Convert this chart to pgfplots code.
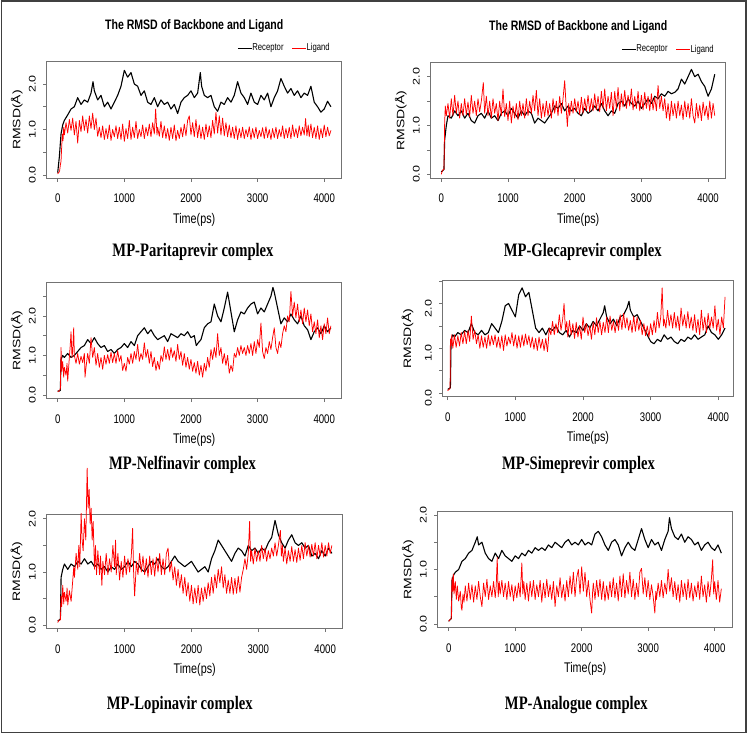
\documentclass[border=0pt]{standalone}
\usepackage{pgfplots}
\pgfplotsset{compat=1.18}
\usepackage{fontspec}
\setmainfont{Liberation Sans}
\newfontfamily\capfont{Liberation Serif}
\definecolor{rred}{RGB}{255,0,0}
\tikzset{
 rec/.style={black, line width=1.1pt, line join=round},
 lig/.style={rred, line width=0.75pt, line join=round},
}
\pgfplotsset{
 rmsd/.style={
  scale only axis, anchor=south west, clip mode=individual,
  axis line style={black!55, line width=0.6pt},
  tick style={black!55, line width=0.6pt},
  tick align=outside, tick pos=left, major tick length=3.5pt,
  xtick={0,1000,2000,3000,4000}, xticklabels={0,1000,2000,3000,4000},
  ytick={0,0.5,1,1.5,2,2.5}, yticklabels={0.0,,1.0,,2.0,},
  xticklabel style={font=\fontsize{12.5}{12.5}\selectfont, xscale=0.77, anchor=base, inner sep=0pt, yshift=-21pt},
  yticklabel style={font=\fontsize{12.5}{12.5}\selectfont, xshift=-7.5pt, xscale=0.77, rotate=90, anchor=base, inner sep=0pt},
  xlabel={Time(ps)}, ylabel={RMSD(Å)},
  every axis x label/.style={at={(axis description cs:0.5,0)}, anchor=base, yshift=-45pt, font=\fontsize{14}{14}\selectfont, xscale=0.77},
  every axis y label/.style={at={(axis description cs:-0.1017,0.5)}, anchor=center, font=\fontsize{14}{14}\selectfont, xscale=0.77, rotate=90},
  title style={at={(axis description cs:0.5,1)}, anchor=base, yshift=26pt, font=\bfseries\fontsize{13.7}{14}\selectfont, xscale=0.77},
  legend style={draw=none, fill=none, inner sep=0pt, at={(axis description cs:0.96,1.117)}, anchor=east,
    font=\fontsize{10}{10}\selectfont, nodes={xscale=0.77, inner sep=0pt},
    /tikz/every even column/.append style={column sep=8pt}},
  legend columns=2,
  legend image code/.code={\draw[#1, line width=1pt] (0pt,0pt) -- (14pt,0pt);},
 },
}
\begin{document}
\begin{tikzpicture}
\path[use as bounding box] (0pt,0pt) rectangle (750pt,734pt);
\draw[black!75, line width=1.3pt] (1.3pt,1.3pt) rectangle (746pt,733pt);

% Panel 1
\begin{axis}[rmsd, at={(46.7pt,555.7pt)}, width=295pt, height=116.6pt,
  xmin=-165, xmax=4262, ymin=-0.073, ymax=2.49,
  title={The RMSD of Backbone and Ligand}]
\addplot[rec] coordinates {(0,0.05)(25,0.4)(50,0.9)(75,1.1)(100,1.2)(150,1.32)(200,1.45)(250,1.5)(300,1.7)(350,1.55)(400,1.65)(450,1.6)(500,1.8)(530,2.05)(550,1.85)(600,1.65)(650,1.75)(700,1.5)(750,1.6)(800,1.45)(850,1.6)(900,1.75)(950,1.95)(1000,2.3)(1050,2.15)(1100,2.25)(1150,2.0)(1200,1.95)(1250,1.75)(1300,1.85)(1350,1.6)(1400,1.55)(1450,1.7)(1500,1.5)(1550,1.65)(1600,1.55)(1650,1.6)(1700,1.45)(1750,1.55)(1800,1.35)(1850,1.6)(1900,1.7)(1950,1.75)(2000,1.85)(2050,1.7)(2100,1.8)(2140,2.25)(2160,1.95)(2200,1.75)(2250,1.7)(2300,1.75)(2350,1.5)(2400,1.4)(2450,1.6)(2500,1.55)(2550,1.7)(2600,1.6)(2650,1.75)(2700,2.05)(2750,1.8)(2800,1.7)(2850,1.55)(2900,1.8)(2950,1.6)(3000,1.55)(3050,1.75)(3100,1.65)(3150,1.8)(3200,1.5)(3250,1.7)(3300,1.85)(3350,2.12)(3400,1.95)(3450,1.8)(3500,1.9)(3550,1.75)(3600,1.85)(3650,1.7)(3700,1.8)(3750,1.75)(3800,1.95)(3850,1.6)(3900,1.5)(3950,1.38)(4000,1.45)(4050,1.62)(4100,1.5)};
\addplot[lig] coordinates {(0,0.02)(10,0.05)(20,0.06)(30,0.1)(40,0.22)(50,0.3)(60,0.62)(70,0.9)(80,0.75)(90,1.05)(100,0.88)(125,1.15)(150,0.92)(175,1.22)(200,0.98)(225,1.25)(250,0.88)(275,1.18)(300,0.7)(325,1.2)(350,0.95)(375,1.3)(400,0.98)(425,1.22)(450,0.92)(475,1.3)(500,1.02)(525,1.36)(550,1.0)(575,1.25)(600,0.85)(625,1.05)(650,0.82)(675,1.08)(700,0.78)(725,1.02)(750,0.8)(775,1.1)(800,0.76)(825,1.0)(850,0.84)(875,1.08)(900,0.8)(925,1.05)(950,0.78)(975,1.12)(1000,0.74)(1025,1.02)(1050,0.8)(1075,1.2)(1100,0.78)(1125,1.05)(1150,0.82)(1175,1.18)(1200,0.8)(1225,1.0)(1250,0.84)(1275,1.1)(1300,0.8)(1325,1.05)(1350,0.86)(1375,1.12)(1400,0.84)(1425,1.15)(1450,0.9)(1470,1.45)(1490,0.88)(1500,1.05)(1525,0.85)(1550,1.18)(1575,0.82)(1600,1.08)(1625,0.8)(1650,1.02)(1675,0.76)(1700,1.05)(1725,0.8)(1750,1.1)(1775,0.75)(1800,0.98)(1825,0.8)(1850,1.05)(1875,0.84)(1900,1.12)(1925,0.86)(1950,1.2)(1975,1.3)(2000,0.88)(2025,1.15)(2050,0.84)(2075,1.22)(2100,0.82)(2125,1.1)(2150,0.8)(2175,1.05)(2200,0.78)(2225,1.12)(2250,0.84)(2275,1.08)(2300,0.82)(2325,1.2)(2350,0.9)(2375,1.38)(2400,0.92)(2425,1.3)(2450,0.88)(2475,1.25)(2500,0.86)(2525,1.15)(2550,0.84)(2575,1.1)(2600,0.82)(2625,1.05)(2650,0.8)(2675,1.08)(2700,0.78)(2725,1.02)(2750,0.82)(2775,1.05)(2800,0.8)(2825,1.0)(2850,0.84)(2875,1.06)(2900,0.78)(2925,1.02)(2950,0.82)(2975,1.05)(3000,0.8)(3025,0.98)(3050,0.84)(3075,1.04)(3100,0.8)(3125,1.06)(3150,0.82)(3175,1.0)(3200,0.78)(3225,1.02)(3250,0.82)(3275,1.05)(3300,0.8)(3325,1.0)(3350,0.84)(3375,1.08)(3400,0.8)(3425,1.02)(3450,0.82)(3475,1.05)(3500,0.8)(3525,1.1)(3550,0.84)(3575,1.02)(3600,0.82)(3625,1.08)(3650,0.86)(3675,1.05)(3700,0.88)(3720,1.24)(3740,0.86)(3760,1.1)(3775,0.84)(3800,1.12)(3825,0.82)(3850,1.05)(3875,0.8)(3900,1.08)(3925,0.78)(3950,1.02)(3975,0.82)(4000,1.1)(4025,0.84)(4050,1.05)(4075,0.86)(4100,0.98)};
\legend{Receptor,Ligand}
\end{axis}

% Panel 2
\begin{axis}[rmsd, at={(430.7pt,555.7pt)}, width=295pt, height=115.6pt,
  xmin=-159, xmax=4264, ymin=-0.082, ymax=2.287,
  title={The RMSD of Backbone and Ligand}]
\addplot[rec] coordinates {(0,0.05)(25,0.08)(40,0.1)(50,0.7)(75,1.0)(100,1.2)(150,1.15)(200,1.3)(250,1.2)(300,1.3)(350,1.15)(400,1.25)(450,1.1)(500,1.05)(550,1.2)(600,1.25)(650,1.15)(700,1.3)(750,1.15)(800,1.2)(850,1.1)(900,1.25)(950,1.3)(1000,1.2)(1050,1.35)(1100,1.25)(1150,1.15)(1200,1.3)(1250,1.2)(1300,1.3)(1350,1.25)(1400,1.05)(1450,1.15)(1500,1.1)(1550,1.05)(1600,1.15)(1650,1.25)(1700,1.4)(1750,1.35)(1800,1.45)(1850,1.3)(1900,1.4)(1950,1.3)(2000,1.35)(2050,1.25)(2100,1.2)(2150,1.35)(2200,1.25)(2250,1.3)(2300,1.4)(2350,1.3)(2400,1.45)(2450,1.3)(2500,1.2)(2550,1.3)(2600,1.25)(2650,1.45)(2700,1.5)(2750,1.4)(2800,1.55)(2850,1.45)(2900,1.4)(2950,1.5)(3000,1.35)(3050,1.45)(3100,1.55)(3150,1.45)(3200,1.6)(3250,1.55)(3300,1.65)(3350,1.6)(3400,1.7)(3450,1.65)(3500,1.68)(3550,1.75)(3600,1.95)(3650,1.85)(3700,2.0)(3750,2.15)(3800,2.0)(3850,2.05)(3900,1.9)(3950,1.8)(4000,1.6)(4050,1.75)(4100,2.05)};
\addplot[lig] coordinates {(0,0.0)(10,0.05)(20,0.08)(30,0.1)(40,0.1)(50,1.05)(60,1.4)(75,1.2)(100,1.45)(125,1.15)(150,1.55)(175,1.2)(200,1.62)(225,1.25)(250,1.5)(275,1.15)(300,1.45)(325,1.2)(350,1.55)(375,1.22)(400,1.48)(425,1.18)(450,1.62)(475,1.25)(500,1.5)(525,1.2)(550,1.55)(575,1.28)(600,1.5)(630,1.88)(650,1.25)(675,1.6)(700,1.2)(725,1.5)(750,1.15)(775,1.55)(800,1.25)(825,1.45)(850,1.1)(875,1.5)(900,1.2)(925,1.75)(950,1.18)(975,1.45)(1000,1.1)(1025,1.5)(1050,1.05)(1075,1.4)(1100,1.15)(1125,1.45)(1150,1.12)(1175,1.5)(1200,1.2)(1225,1.45)(1250,1.15)(1275,1.55)(1300,1.2)(1325,1.5)(1350,1.25)(1375,1.62)(1400,1.3)(1425,1.72)(1450,1.2)(1475,1.55)(1500,1.15)(1525,1.45)(1550,1.18)(1575,1.5)(1600,1.2)(1625,1.45)(1650,1.15)(1675,1.55)(1700,1.25)(1725,1.5)(1750,1.2)(1775,1.6)(1800,1.25)(1825,1.55)(1850,1.92)(1875,1.3)(1890,0.98)(1910,1.45)(1925,1.2)(1950,1.5)(1975,1.25)(2000,1.55)(2025,1.28)(2050,1.5)(2075,1.22)(2100,1.58)(2125,1.25)(2150,1.55)(2175,1.3)(2200,1.62)(2225,1.28)(2250,1.55)(2275,1.3)(2300,1.65)(2325,1.32)(2350,1.6)(2375,1.28)(2400,1.7)(2425,1.35)(2450,1.75)(2475,1.3)(2500,1.6)(2525,1.35)(2550,1.68)(2575,1.2)(2600,1.7)(2625,1.35)(2650,1.78)(2675,1.3)(2700,1.65)(2725,1.38)(2750,1.72)(2775,1.35)(2800,1.62)(2825,1.4)(2850,1.75)(2875,1.32)(2900,1.6)(2925,1.35)(2950,1.7)(2975,1.3)(3000,1.62)(3025,1.32)(3050,1.68)(3075,1.35)(3100,1.6)(3125,1.3)(3150,1.65)(3175,1.32)(3200,1.58)(3225,1.3)(3250,1.82)(3275,1.35)(3300,1.6)(3325,1.3)(3350,1.55)(3375,1.15)(3400,1.45)(3425,1.1)(3450,1.5)(3475,1.2)(3500,1.45)(3525,1.15)(3550,1.5)(3575,1.2)(3600,1.42)(3625,1.12)(3650,1.5)(3675,1.18)(3700,1.45)(3725,1.15)(3750,1.55)(3775,1.2)(3800,1.05)(3825,1.45)(3850,1.15)(3875,1.42)(3900,1.1)(3925,1.48)(3950,1.2)(3975,1.4)(4000,1.12)(4025,1.5)(4050,1.15)(4075,1.45)(4100,1.2)};
\legend{Receptor,Ligand}
\end{axis}

% Panel 3
\begin{axis}[rmsd, at={(46.7pt,335.3pt)}, width=295pt, height=116pt,
  xmin=-165, xmax=4262, ymin=-0.094, ymax=2.84]
\addplot[rec] coordinates {(0,0.1)(25,0.1)(40,0.12)(50,0.9)(75,1.0)(100,0.95)(150,1.05)(200,0.95)(250,1.0)(300,1.1)(350,1.2)(400,1.25)(450,1.4)(500,1.3)(550,1.45)(600,1.3)(650,1.2)(700,1.25)(750,1.1)(800,1.15)(850,1.05)(900,1.15)(950,1.2)(1000,1.3)(1050,1.2)(1100,1.35)(1150,1.25)(1200,1.5)(1250,1.6)(1300,1.7)(1350,1.55)(1400,1.65)(1450,1.5)(1500,1.4)(1550,1.45)(1600,1.5)(1650,1.35)(1700,1.55)(1750,1.5)(1800,1.45)(1850,1.55)(1900,1.5)(1950,1.6)(2000,1.45)(2050,1.5)(2080,1.25)(2100,1.3)(2150,1.4)(2200,1.7)(2250,1.8)(2300,1.85)(2350,2.3)(2400,2.0)(2450,1.85)(2500,2.2)(2550,2.6)(2600,2.1)(2650,1.6)(2700,1.9)(2750,2.1)(2800,2.05)(2850,2.2)(2900,2.3)(2950,2.35)(3000,2.05)(3050,2.2)(3100,2.1)(3150,2.3)(3200,2.5)(3230,2.72)(3250,2.6)(3300,2.2)(3350,1.8)(3400,1.95)(3450,1.85)(3500,2.05)(3550,1.9)(3600,1.8)(3650,2.0)(3700,1.75)(3750,1.65)(3800,1.4)(3850,1.6)(3900,1.7)(3950,1.55)(4000,1.75)(4050,1.6)(4100,1.7)};
\addplot[lig] coordinates {(0,0.08)(20,0.1)(40,0.15)(50,1.2)(60,0.6)(75,0.85)(90,0.45)(100,0.7)(125,0.5)(140,0.8)(150,0.35)(175,0.95)(190,1.3)(200,1.6)(215,0.95)(225,1.1)(240,1.7)(250,1.0)(275,0.8)(300,1.05)(325,0.78)(350,0.98)(375,0.82)(400,1.05)(410,0.45)(425,0.7)(450,1.05)(475,0.8)(500,1.45)(525,0.95)(550,1.2)(575,0.75)(600,1.05)(625,0.7)(650,0.95)(675,0.65)(700,1.0)(725,0.78)(750,1.02)(775,0.8)(800,1.08)(825,0.82)(850,1.05)(875,0.8)(900,1.12)(925,0.85)(950,1.0)(975,0.62)(1000,0.8)(1025,0.6)(1050,0.95)(1075,0.78)(1100,1.05)(1125,0.8)(1150,1.1)(1175,0.9)(1200,1.28)(1225,0.85)(1250,1.05)(1275,0.9)(1300,1.32)(1325,0.95)(1350,1.15)(1375,0.8)(1400,1.1)(1425,0.72)(1450,0.95)(1475,0.62)(1500,0.85)(1525,0.65)(1550,1.0)(1575,0.85)(1600,1.22)(1625,0.9)(1650,1.15)(1675,0.88)(1700,1.2)(1725,0.95)(1750,1.12)(1775,0.85)(1800,1.28)(1825,0.9)(1850,1.1)(1875,0.75)(1900,1.05)(1925,0.7)(1950,0.95)(1975,0.65)(2000,0.9)(2025,0.6)(2050,0.82)(2075,0.55)(2100,0.85)(2125,0.5)(2150,0.75)(2175,0.45)(2200,0.8)(2225,0.6)(2250,0.95)(2275,0.7)(2300,1.15)(2325,0.9)(2350,1.2)(2375,0.95)(2400,1.55)(2425,1.0)(2450,1.2)(2475,0.8)(2500,1.05)(2525,0.75)(2550,1.0)(2575,0.55)(2600,0.75)(2625,0.6)(2650,1.05)(2675,0.95)(2700,1.2)(2725,1.0)(2750,1.25)(2775,1.05)(2800,1.2)(2825,1.0)(2850,1.25)(2875,1.05)(2900,1.3)(2925,1.0)(2950,1.35)(2975,1.05)(3000,1.4)(3025,1.2)(3050,1.82)(3075,1.1)(3100,0.92)(3125,1.2)(3150,1.05)(3175,1.35)(3200,1.15)(3225,1.45)(3250,1.7)(3275,1.2)(3300,1.05)(3325,1.35)(3350,1.2)(3375,1.55)(3400,1.75)(3425,1.6)(3450,2.0)(3475,1.85)(3500,2.62)(3525,2.0)(3550,2.35)(3575,1.95)(3600,2.3)(3625,1.85)(3650,2.15)(3675,1.8)(3700,2.2)(3725,1.85)(3750,2.15)(3775,1.75)(3800,2.05)(3825,1.6)(3850,1.85)(3875,1.55)(3900,1.9)(3925,1.45)(3950,1.75)(3975,1.4)(4000,1.8)(4025,1.55)(4050,1.95)(4075,1.55)(4100,1.75)};
\end{axis}

% Panel 4
\begin{axis}[rmsd, at={(442.7pt,337.3pt)}, width=290.6pt, height=116pt,
  xmin=-74, xmax=4222, ymin=-0.083, ymax=2.51,
  every axis y label/.append style={at={(axis description cs:-0.121,0.5)}},
  yticklabel style={xshift=-5pt}]
\addplot[rec] coordinates {(0,0.08)(25,0.1)(40,0.12)(50,1.2)(75,1.3)(100,1.25)(150,1.35)(200,1.3)(250,1.4)(300,1.35)(350,1.55)(400,1.35)(450,1.3)(500,1.4)(550,1.3)(600,1.35)(650,1.55)(700,1.45)(750,1.35)(800,1.6)(850,1.95)(900,2.0)(950,1.85)(1000,1.7)(1050,2.2)(1100,2.35)(1150,2.15)(1200,2.25)(1250,1.85)(1300,1.45)(1350,1.35)(1400,1.45)(1450,1.3)(1500,1.45)(1550,1.4)(1600,1.5)(1650,1.35)(1700,1.3)(1750,1.4)(1800,1.25)(1850,1.4)(1900,1.35)(1950,1.5)(2000,1.4)(2050,1.55)(2100,1.45)(2150,1.6)(2200,1.5)(2250,1.65)(2300,1.8)(2320,1.95)(2350,1.7)(2400,1.55)(2450,1.65)(2500,1.5)(2550,1.7)(2600,1.75)(2650,1.9)(2680,2.05)(2700,1.85)(2750,1.7)(2800,1.75)(2850,1.6)(2900,1.45)(2950,1.3)(3000,1.15)(3050,1.1)(3100,1.2)(3150,1.15)(3200,1.3)(3250,1.2)(3300,1.25)(3350,1.15)(3400,1.1)(3450,1.2)(3500,1.15)(3550,1.25)(3600,1.2)(3650,1.3)(3700,1.2)(3750,1.25)(3800,1.3)(3850,1.5)(3900,1.35)(3950,1.3)(4000,1.2)(4050,1.3)(4100,1.45)};
\addplot[lig] coordinates {(0,0.05)(20,0.08)(35,0.1)(40,1.2)(50,1.05)(60,1.3)(75,1.0)(100,1.3)(125,1.02)(150,1.28)(175,1.05)(200,1.35)(225,1.1)(250,1.38)(275,1.1)(300,1.4)(325,1.15)(350,1.72)(375,1.2)(400,1.4)(425,1.1)(450,1.3)(475,1.0)(500,1.28)(525,1.02)(550,1.25)(575,1.0)(600,1.3)(625,1.05)(650,1.28)(675,1.08)(700,1.3)(725,1.02)(750,1.25)(775,1.0)(800,1.28)(825,0.95)(850,1.3)(875,1.05)(900,1.25)(925,1.1)(950,1.35)(975,1.05)(1000,1.3)(1025,1.0)(1050,1.28)(1075,1.02)(1100,1.3)(1125,1.05)(1150,1.32)(1175,1.08)(1200,1.28)(1225,1.02)(1250,1.25)(1275,0.98)(1300,1.22)(1325,0.95)(1350,1.25)(1375,1.0)(1400,1.2)(1425,0.95)(1450,1.22)(1475,0.92)(1490,1.2)(1500,1.45)(1525,1.3)(1550,1.6)(1575,1.3)(1600,1.55)(1625,1.35)(1650,1.75)(1675,1.4)(1700,1.65)(1720,2.0)(1740,1.4)(1760,1.6)(1775,1.25)(1800,1.62)(1825,1.3)(1850,1.55)(1875,1.22)(1900,1.58)(1925,1.25)(1950,1.5)(1975,1.2)(2000,1.7)(2025,1.35)(2050,1.55)(2075,1.28)(2100,1.5)(2125,1.2)(2150,1.58)(2175,1.3)(2200,1.68)(2225,1.35)(2250,1.6)(2275,1.3)(2300,1.58)(2325,1.35)(2350,1.7)(2375,1.35)(2400,1.72)(2425,1.4)(2450,1.6)(2475,1.35)(2500,1.65)(2525,1.4)(2550,1.75)(2575,1.42)(2600,1.78)(2625,1.45)(2650,1.68)(2675,1.4)(2700,1.62)(2725,1.35)(2750,1.72)(2775,1.38)(2800,1.7)(2825,1.4)(2850,1.62)(2875,1.3)(2900,1.55)(2925,1.28)(2950,1.5)(2975,1.25)(3000,1.55)(3025,1.3)(3050,1.62)(3075,1.35)(3100,1.8)(3125,1.45)(3150,1.7)(3170,2.35)(3190,1.5)(3200,1.65)(3225,1.45)(3250,1.85)(3275,1.5)(3300,1.75)(3325,1.45)(3350,1.8)(3375,1.45)(3400,1.72)(3425,1.4)(3450,1.9)(3475,1.5)(3500,1.75)(3525,1.45)(3550,1.82)(3575,1.45)(3600,1.7)(3625,1.4)(3650,1.75)(3675,1.35)(3700,1.65)(3725,1.3)(3750,1.85)(3775,1.4)(3800,1.7)(3825,1.35)(3850,1.78)(3875,1.45)(3900,1.7)(3925,1.45)(3950,1.95)(3975,1.4)(4000,1.65)(4025,1.3)(4050,1.7)(4075,1.45)(4100,2.15)};
\end{axis}

% Panel 5
\begin{axis}[rmsd, at={(46.7pt,105.3pt)}, width=296pt, height=114.7pt,
  xmin=-165, xmax=4262, ymin=-0.065, ymax=2.09, clip=false]
\addplot[rec] coordinates {(0,0.08)(25,0.1)(40,0.12)(50,0.9)(75,1.05)(100,1.15)(150,1.05)(200,1.15)(250,1.1)(300,1.2)(350,1.15)(400,1.25)(450,1.15)(500,1.2)(550,1.1)(600,1.15)(650,1.05)(700,1.1)(750,1.0)(800,1.1)(850,1.05)(900,1.15)(950,1.05)(1000,1.1)(1050,1.2)(1100,1.1)(1150,1.2)(1200,1.15)(1250,1.05)(1300,1.0)(1350,1.1)(1400,1.2)(1450,1.15)(1500,1.25)(1550,1.1)(1600,1.05)(1650,1.1)(1700,1.2)(1750,1.3)(1800,1.2)(1850,1.15)(1900,1.1)(1950,1.15)(2000,1.2)(2050,1.1)(2100,1.0)(2150,1.05)(2200,1.1)(2250,1.0)(2300,1.25)(2350,1.4)(2400,1.6)(2450,1.5)(2500,1.4)(2550,1.3)(2600,1.2)(2650,1.35)(2700,1.45)(2750,1.4)(2800,1.3)(2850,1.5)(2900,1.4)(2950,1.45)(3000,1.35)(3050,1.45)(3100,1.4)(3150,1.55)(3200,1.65)(3250,1.97)(3300,1.7)(3350,1.55)(3400,1.45)(3450,1.6)(3500,1.7)(3550,1.55)(3600,1.5)(3650,1.55)(3700,1.45)(3750,1.5)(3800,1.3)(3850,1.35)(3900,1.25)(3950,1.4)(4000,1.3)(4050,1.45)(4100,1.35)};
\addplot[lig] coordinates {(0,0.05)(20,0.1)(40,0.1)(50,0.55)(60,0.35)(75,0.75)(90,0.4)(100,0.62)(125,0.45)(140,0.7)(150,0.38)(175,0.65)(200,0.45)(225,0.85)(240,1.1)(250,0.9)(275,1.35)(300,1.05)(315,1.5)(330,1.1)(350,2.1)(365,1.6)(380,1.4)(400,2.0)(420,1.6)(440,2.95)(455,2.2)(470,2.55)(485,1.9)(500,2.2)(515,1.6)(530,1.95)(550,1.05)(565,1.5)(580,0.95)(600,1.4)(625,0.95)(640,1.3)(660,0.75)(675,1.2)(700,0.95)(725,1.35)(750,0.95)(775,1.25)(800,1.0)(825,1.5)(850,1.1)(865,1.6)(875,0.95)(900,1.35)(925,0.85)(950,1.2)(975,0.9)(1000,1.3)(1025,0.95)(1050,1.25)(1075,1.0)(1100,1.3)(1120,1.82)(1135,1.0)(1150,0.55)(1165,0.9)(1175,1.2)(1200,0.95)(1225,1.35)(1250,1.0)(1275,1.3)(1300,0.95)(1325,1.25)(1350,0.9)(1375,1.3)(1400,0.95)(1425,1.25)(1450,0.92)(1475,1.28)(1500,1.0)(1525,1.35)(1550,0.95)(1575,1.25)(1600,0.95)(1625,1.35)(1650,1.45)(1675,1.0)(1700,1.2)(1725,0.85)(1750,1.1)(1775,0.75)(1800,1.05)(1825,0.7)(1850,0.95)(1875,0.6)(1900,0.9)(1925,0.55)(1950,0.8)(1975,0.45)(2000,0.75)(2025,0.4)(2050,0.7)(2075,0.42)(2100,0.75)(2125,0.38)(2150,0.7)(2175,0.45)(2200,0.72)(2225,0.5)(2250,0.8)(2275,0.55)(2300,0.9)(2325,0.6)(2350,0.95)(2375,0.7)(2400,1.05)(2425,0.8)(2450,1.1)(2475,0.7)(2500,0.95)(2525,0.6)(2550,0.85)(2575,0.6)(2600,0.9)(2625,0.58)(2650,0.88)(2675,0.6)(2700,0.92)(2725,0.62)(2750,0.9)(2775,1.05)(2800,1.25)(2825,1.05)(2850,1.35)(2870,1.95)(2885,1.2)(2900,1.4)(2925,1.15)(2950,1.45)(2975,1.2)(3000,1.4)(3025,1.2)(3050,1.5)(3075,1.25)(3100,1.45)(3125,1.2)(3150,1.4)(3175,1.25)(3200,1.45)(3225,1.3)(3250,1.55)(3275,1.3)(3300,1.5)(3330,1.78)(3345,1.3)(3360,1.5)(3375,1.2)(3400,1.45)(3425,1.15)(3450,1.4)(3475,1.2)(3500,1.48)(3525,1.2)(3550,1.42)(3575,1.18)(3600,1.45)(3625,1.22)(3650,1.5)(3675,1.25)(3700,1.55)(3725,1.3)(3750,1.5)(3775,1.28)(3800,1.52)(3825,1.3)(3850,1.55)(3875,1.25)(3900,1.5)(3925,1.3)(3950,1.55)(3975,1.28)(4000,1.5)(4025,1.3)(4050,1.55)(4075,1.35)(4100,1.5)};
\end{axis}

% Panel 6
\begin{axis}[rmsd, at={(437.7pt,106.3pt)}, width=295pt, height=116pt,
  xmin=-165, xmax=4271, ymin=-0.068, ymax=2.06]
\addplot[rec] coordinates {(0,0.05)(25,0.08)(40,0.1)(50,0.8)(75,0.9)(100,0.95)(150,1.0)(200,1.15)(250,1.2)(300,1.3)(350,1.35)(400,1.5)(430,1.6)(450,1.45)(500,1.5)(550,1.3)(600,1.2)(650,1.15)(700,1.3)(750,1.2)(800,1.35)(850,1.25)(900,1.2)(950,1.15)(1000,1.25)(1050,1.2)(1100,1.3)(1150,1.25)(1200,1.35)(1250,1.3)(1300,1.4)(1350,1.35)(1400,1.4)(1450,1.35)(1500,1.45)(1550,1.4)(1600,1.5)(1650,1.45)(1700,1.4)(1750,1.5)(1800,1.55)(1850,1.45)(1900,1.5)(1950,1.45)(2000,1.55)(2050,1.45)(2100,1.5)(2150,1.45)(2200,1.65)(2250,1.7)(2300,1.6)(2350,1.45)(2400,1.35)(2450,1.5)(2500,1.55)(2550,1.45)(2600,1.25)(2650,1.4)(2700,1.5)(2750,1.4)(2800,1.35)(2850,1.55)(2900,1.75)(2950,1.55)(3000,1.4)(3050,1.55)(3100,1.45)(3150,1.5)(3200,1.35)(3250,1.55)(3300,1.7)(3320,1.95)(3350,1.75)(3400,1.6)(3450,1.55)(3500,1.65)(3550,1.5)(3600,1.6)(3650,1.55)(3700,1.45)(3750,1.5)(3800,1.35)(3850,1.45)(3900,1.5)(3950,1.4)(4000,1.35)(4050,1.45)(4100,1.3)};
\addplot[lig] coordinates {(0,0.05)(20,0.08)(40,0.1)(50,0.85)(60,0.6)(70,0.92)(80,0.55)(100,0.78)(115,0.45)(130,0.7)(150,0.42)(175,0.6)(190,0.3)(200,0.25)(215,0.55)(230,0.4)(250,0.7)(275,0.42)(300,0.75)(325,0.45)(350,0.72)(375,0.4)(400,0.7)(425,0.45)(450,0.78)(475,0.5)(500,0.32)(525,0.75)(550,0.5)(575,0.82)(600,0.45)(625,0.7)(650,0.5)(675,0.78)(700,0.48)(715,0.7)(730,1.22)(745,0.5)(760,0.78)(775,0.55)(800,0.8)(825,0.5)(850,0.75)(875,0.45)(900,0.78)(925,0.5)(950,0.72)(975,0.42)(1000,0.7)(1025,0.48)(1050,0.75)(1075,0.5)(1100,1.12)(1115,0.55)(1130,0.78)(1150,0.45)(1175,0.75)(1200,0.42)(1225,0.78)(1250,0.5)(1275,0.8)(1300,0.45)(1325,0.72)(1350,0.5)(1375,0.8)(1400,0.4)(1425,0.75)(1450,0.48)(1475,0.82)(1500,0.5)(1525,0.72)(1550,0.45)(1575,0.78)(1600,0.32)(1625,0.7)(1650,0.5)(1675,0.85)(1700,0.48)(1725,0.72)(1750,0.42)(1775,0.8)(1800,0.5)(1825,0.88)(1850,0.55)(1875,0.95)(1900,0.5)(1925,0.85)(1950,1.0)(1975,0.55)(2000,1.05)(2025,0.6)(2050,0.95)(2075,0.5)(2100,0.8)(2125,0.45)(2150,0.2)(2165,0.6)(2175,0.75)(2200,0.45)(2225,0.8)(2250,0.5)(2275,0.82)(2300,0.45)(2325,0.78)(2350,0.42)(2375,0.7)(2400,0.45)(2425,0.78)(2450,0.5)(2475,0.85)(2500,0.48)(2525,0.75)(2550,0.42)(2575,0.88)(2600,0.5)(2625,0.92)(2650,0.48)(2675,0.8)(2700,0.55)(2725,0.95)(2750,0.5)(2775,0.82)(2800,0.45)(2825,0.75)(2850,0.5)(2875,0.95)(2900,1.02)(2925,0.55)(2950,0.85)(2975,0.5)(3000,0.8)(3025,0.45)(3050,0.72)(3075,0.5)(3100,0.2)(3115,0.6)(3125,0.45)(3150,0.75)(3175,0.5)(3200,0.8)(3225,0.48)(3250,0.75)(3275,0.55)(3300,1.0)(3325,0.6)(3350,0.85)(3375,0.5)(3400,0.78)(3425,0.45)(3450,0.72)(3475,0.4)(3500,0.8)(3525,0.5)(3550,0.75)(3575,0.45)(3600,0.82)(3625,0.48)(3650,0.75)(3675,0.42)(3700,0.7)(3725,0.5)(3750,0.78)(3775,0.45)(3800,0.88)(3825,0.5)(3850,0.72)(3875,0.4)(3900,0.78)(3925,0.5)(3950,0.82)(3970,1.18)(3985,0.55)(4000,0.78)(4025,0.45)(4050,0.8)(4075,0.4)(4100,0.65)};
\end{axis}

\begin{scope}[every node/.style={font=\capfont\bfseries\fontsize{19}{19}\selectfont, xscale=0.77, anchor=base, inner sep=0pt}]
\node at (193pt,477.3pt) {MP-Paritaprevir complex};
\node at (582.7pt,477.3pt) {MP-Glecaprevir complex};
\node at (182.5pt,264.3pt) {MP-Nelfinavir complex};
\node at (578.5pt,264.3pt) {MP-Simeprevir complex};
\node at (179.8pt,24.7pt) {MP-Lopinavir complex};
\node at (576.3pt,24.7pt) {MP-Analogue complex};
\end{scope}
\end{tikzpicture}
\end{document}
